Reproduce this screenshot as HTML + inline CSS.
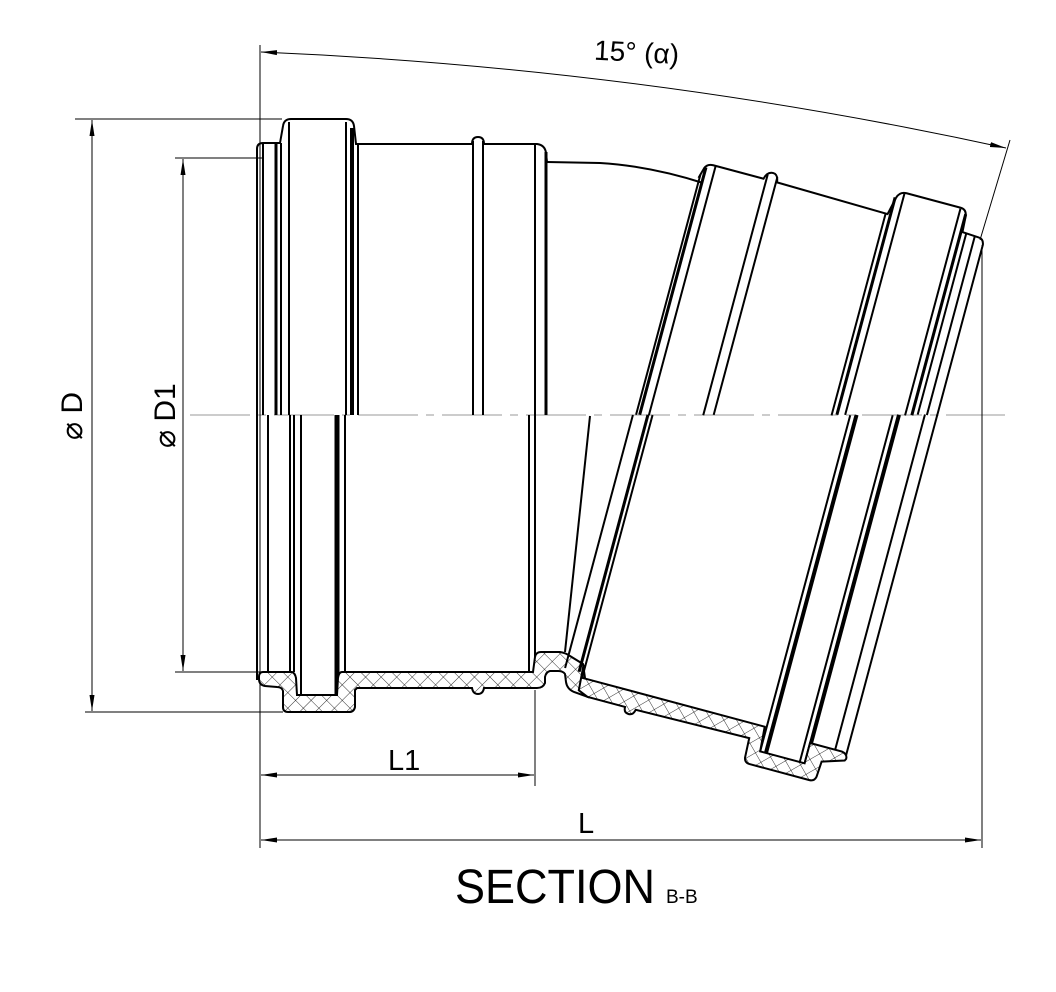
<!DOCTYPE html>
<html><head><meta charset="utf-8"><style>
html,body{margin:0;padding:0;background:#fff;}
svg{display:block;}
text{font-family:"Liberation Sans",sans-serif;fill:#000;}
</style></head><body>
<svg width="1056" height="992" viewBox="0 0 1056 992" xmlns="http://www.w3.org/2000/svg">
<defs>
<pattern id="h" width="11" height="11" patternUnits="userSpaceOnUse" patternTransform="rotate(45)">
<rect width="11" height="11" fill="#fff"/>
<line x1="0" y1="0" x2="0" y2="11" stroke="#000" stroke-width="0.8"/>
<line x1="0" y1="0" x2="11" y2="0" stroke="#000" stroke-width="0.8"/>
</pattern>
<marker id="a" markerWidth="16" markerHeight="8" refX="16" refY="4" orient="auto" markerUnits="userSpaceOnUse">
<path d="M0,1.5 L16,4 L0,6.5 Z" fill="#000"/></marker>
<marker id="b" markerWidth="16" markerHeight="8" refX="0" refY="4" orient="auto" markerUnits="userSpaceOnUse">
<path d="M16,1.5 L0,4 L16,6.5 Z" fill="#000"/></marker>
</defs>

<line x1="190" y1="415" x2="1005" y2="415" stroke="#bbb" stroke-width="1.5" stroke-dasharray="60,8,8,8"/>

<g stroke="#000" stroke-width="1" fill="none">
<line x1="75" y1="119" x2="282" y2="119"/>
<line x1="85" y1="712" x2="283" y2="712"/>
<line x1="92" y1="120" x2="92" y2="711" marker-start="url(#b)" marker-end="url(#a)"/>
<line x1="175" y1="158" x2="262" y2="158"/>
<line x1="175" y1="672" x2="262" y2="672"/>
<line x1="183" y1="159" x2="183" y2="671" marker-start="url(#b)" marker-end="url(#a)"/>
<line x1="260" y1="45" x2="260" y2="848"/>
<line x1="535" y1="690" x2="535" y2="786"/>
<line x1="261" y1="775" x2="534" y2="775" marker-start="url(#b)" marker-end="url(#a)"/>
<line x1="982" y1="245" x2="982" y2="848"/>
<line x1="261" y1="840" x2="981" y2="840" marker-start="url(#b)" marker-end="url(#a)"/>
<line x1="980" y1="240" x2="1010" y2="140"/>
<path d="M261,52 Q640,68 1006,148" marker-start="url(#b)" marker-end="url(#a)"/>
</g>

<g stroke="#000" fill="none" stroke-width="2">
<path d="M257,415 L257,149 Q257,143 263,143 L280,143 L283,126 Q284,119 291,119 L346,119 Q353,119 354,126 L356,144 L472,144 Q472,137 478,137 Q484,137 484,144 L537,144 Q545,145 546,153 L547,162"/>
<line x1="263" y1="143" x2="263" y2="415"/>
<line x1="276" y1="143" x2="276" y2="415" stroke-width="3"/>
<line x1="281" y1="143" x2="281" y2="415"/>
<line x1="289" y1="122" x2="289" y2="415"/>
<line x1="346" y1="122" x2="346" y2="415"/>
<line x1="352" y1="128" x2="352" y2="415" stroke-width="4"/>
<line x1="358" y1="144" x2="358" y2="415"/>
<line x1="473" y1="141" x2="473" y2="415"/>
<line x1="483" y1="141" x2="483" y2="415"/>
<line x1="535" y1="144" x2="535" y2="415"/>
<line x1="546" y1="152" x2="546" y2="415" stroke-width="3"/>
<path d="M547,162 L600,163 Q650,166 703,183"/>
</g>

<g stroke="#000" fill="none" stroke-width="2">
<line x1="257" y1="415" x2="257" y2="680"/>
<line x1="268" y1="415" x2="268" y2="672"/>
<line x1="290" y1="415" x2="290" y2="672"/>
<line x1="294" y1="415" x2="294" y2="672"/>
<line x1="301" y1="415" x2="301" y2="695"/>
<line x1="337" y1="415" x2="337" y2="695" stroke-width="5"/>
<line x1="345" y1="415" x2="345" y2="672"/>
<line x1="529" y1="415" x2="529" y2="672"/>
<line x1="535" y1="415" x2="535" y2="672"/>
<line x1="590" y1="416" x2="565" y2="652"/>
</g>
<path d="M263,672 L292,672 Q295,673 296,678 L297,695 L337,695 L338,678 Q339,672 342,672 L533,672 L535,657 Q536,652 541,652 L560,652 Q566,653 570,656 L583,664 L585,678 L588,697 L574,692 Q567,689 566,682 L565,674 Q563,671 558,671 L550,671 Q546,672 545,677 L545,683 Q543,688 537,688 L484,688 Q483,694 478,694 Q473,694 472,688 L357,688 L355,690 L355,707 Q354,712 349,712 L288,712 Q283,712 283,707 L283,691 Q282,687 277,687 L265,686 Q259,685 259,679 L259,677 Q259,672 263,672 Z" fill="url(#h)" stroke="#000" stroke-width="2"/>

<g transform="translate(548,415) rotate(15)" stroke="#000" fill="none" stroke-width="2">
<path d="M84,-268 L87,-279 Q89,-284 95,-284 L147,-284 Q149,-292 155,-292 Q160,-292 161,-284 L276,-282 L280,-300 Q282,-307 289,-307 L345,-307 Q351,-307 352,-300 L353,-284 L370,-283 Q375,-283 376,-277 L376,-100"/>
<line x1="85" y1="-272" x2="85" y2="-23"/>
<line x1="88.5" y1="-280" x2="88.5" y2="-24" stroke-width="3"/>
<line x1="97.5" y1="-284" x2="97.5" y2="-26"/>
<line x1="150" y1="-289" x2="150" y2="-40"/>
<line x1="160" y1="-289" x2="160" y2="-43"/>
<line x1="274" y1="-282" x2="274" y2="-73"/>
<line x1="279" y1="-300" x2="279" y2="-75" stroke-width="3"/>
<line x1="287" y1="-306" x2="287" y2="-77"/>
<line x1="345" y1="-306" x2="345" y2="-92"/>
<line x1="351.5" y1="-302" x2="351.5" y2="-94" stroke-width="3"/>
<line x1="357" y1="-284" x2="357" y2="-96"/>
<line x1="366" y1="-283" x2="366" y2="-98"/>
<line x1="82" y1="-22" x2="82" y2="240"/>
<line x1="96.5" y1="-26" x2="96.5" y2="240" stroke-width="3"/>
<line x1="101" y1="-27" x2="101" y2="245"/>
<line x1="292" y1="-78" x2="292" y2="270"/>
<line x1="298" y1="-80" x2="298" y2="270" stroke-width="4"/>
<line x1="333" y1="-89" x2="333" y2="270"/>
<line x1="339" y1="-91" x2="339" y2="270" stroke-width="4"/>
<line x1="364" y1="-98" x2="364" y2="249"/>
<line x1="376" y1="-101" x2="376" y2="254"/>
<path d="M99,232 L100,245 L290,245 L292,270 L338,270 L338,249 L371,249 Q377,250 377,255 L376,257 L354,264 L353,280 Q352,285 347,285 L285,285 Q280,285 279,280 L278,260 L161,262 Q160,268 155,268 Q150,268 150,262 L111,262 L101,258 Z" fill="url(#h)"/>
</g>

<text x="0" y="0" font-size="30" transform="translate(82,440) rotate(-90)">⌀ D</text>
<text x="0" y="0" font-size="30" transform="translate(175,448) rotate(-90)">⌀ D1</text>
<text x="388" y="770" font-size="29">L1</text>
<text x="578" y="833" font-size="29">L</text>
<text x="594" y="62" font-size="28" transform="rotate(3 640 55)">15° (α)</text>
<text x="455" y="903" font-size="48" textLength="200" lengthAdjust="spacingAndGlyphs">SECTION</text>
<text x="666" y="903" font-size="19">B-B</text>
</svg>
</body></html>
